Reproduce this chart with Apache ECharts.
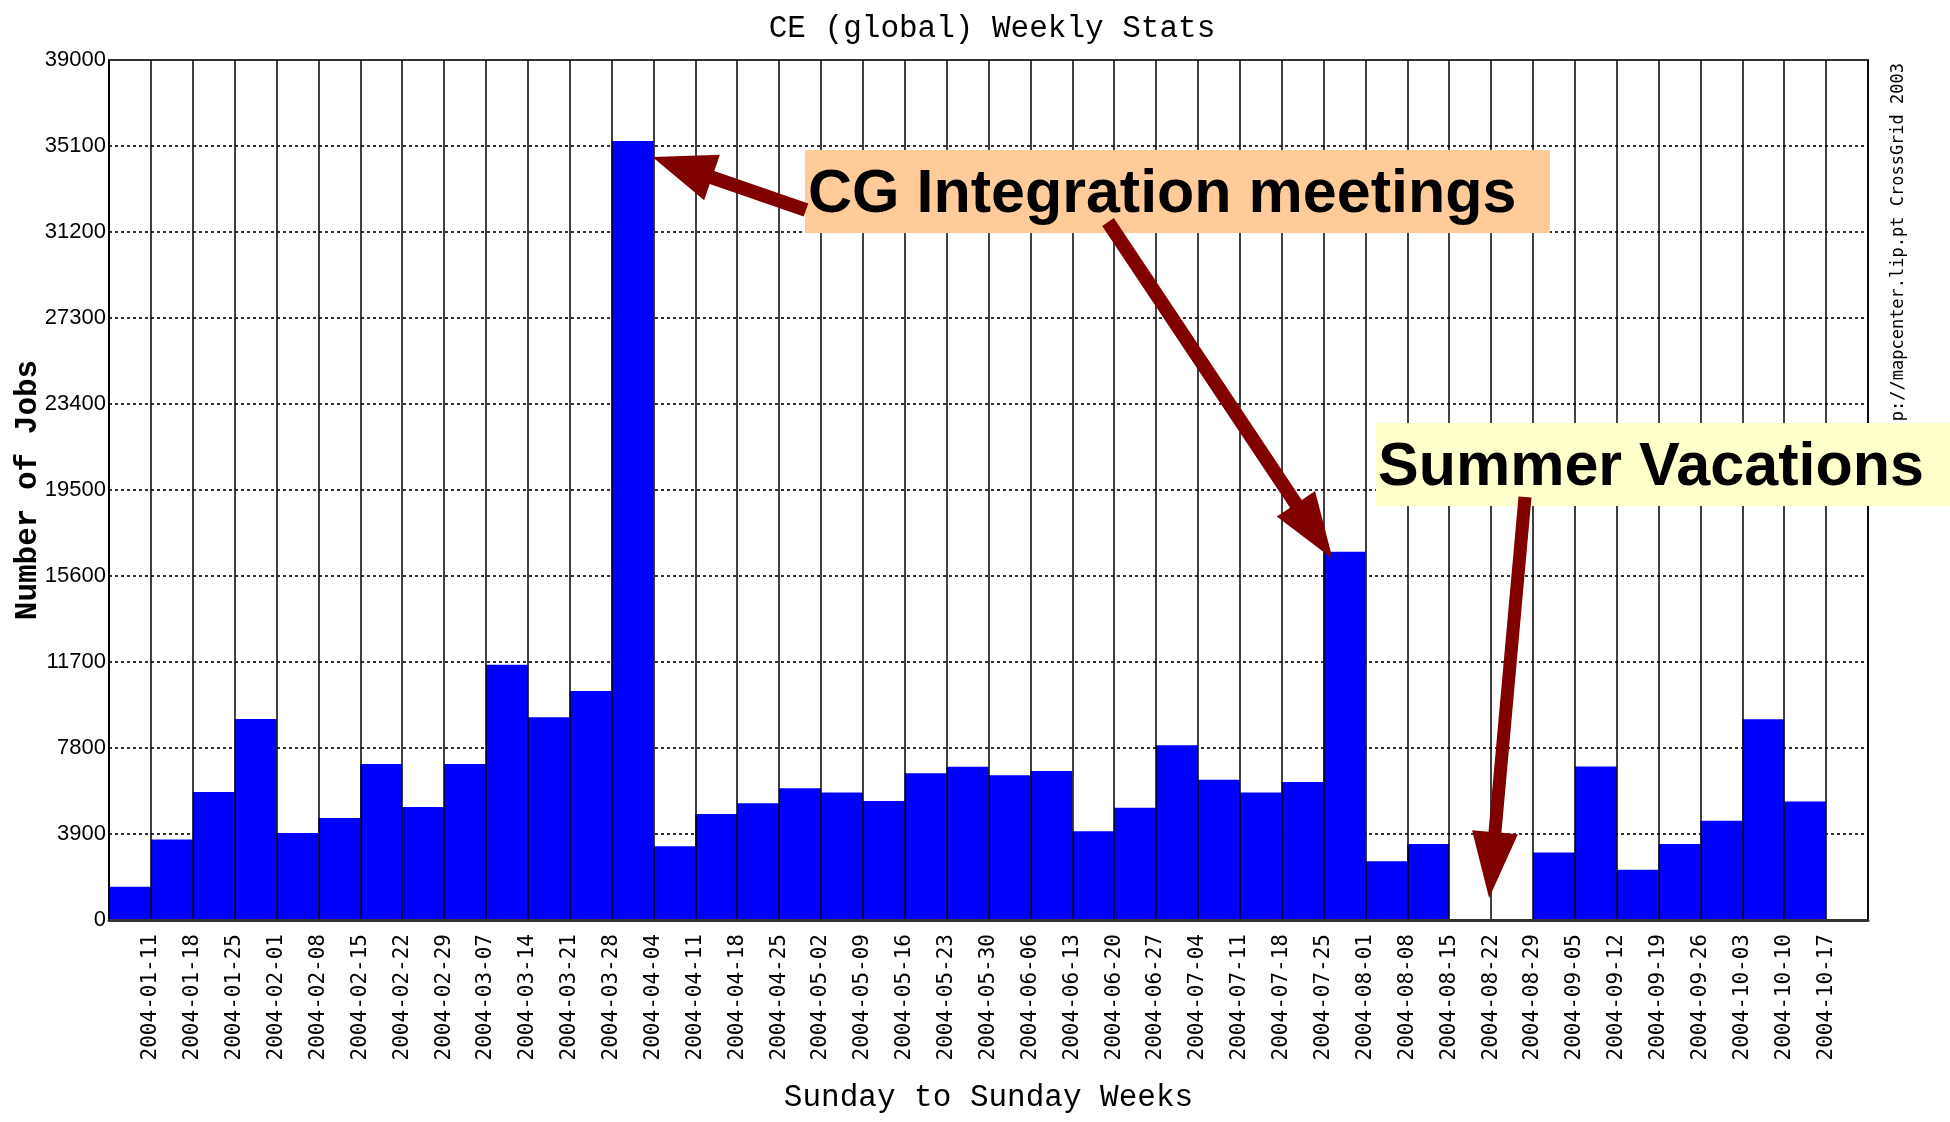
<!DOCTYPE html>
<html><head><meta charset="utf-8">
<script src="https://cdn.jsdelivr.net/npm/echarts@6/dist/echarts.min.js"></script>
<style>html,body{margin:0;padding:0;background:#fff}#c{width:1950px;height:1122px}</style>
</head><body><div id="c"></div>
<script>
// ---- data ----
const weeks = [
  '2004-01-11','2004-01-18','2004-01-25','2004-02-01','2004-02-08','2004-02-15','2004-02-22','2004-02-29',
  '2004-03-07','2004-03-14','2004-03-21','2004-03-28','2004-04-04','2004-04-11','2004-04-18','2004-04-25',
  '2004-05-02','2004-05-09','2004-05-16','2004-05-23','2004-05-30','2004-06-06','2004-06-13','2004-06-20',
  '2004-06-27','2004-07-04','2004-07-11','2004-07-18','2004-07-25','2004-08-01','2004-08-08','2004-08-15',
  '2004-08-22','2004-08-29','2004-09-05','2004-09-12','2004-09-19','2004-09-26','2004-10-03','2004-10-10',
  '2004-10-17'
];
const jobs = [
  1510, 3650, 5810, 9110, 3950, 4630, 7080, 5130,
  7080, 11570, 9200, 10380, 35330, 3340, 4810, 5290,
  5970, 5780, 5400, 6650, 6950, 6560, 6760, 4020,
  5090, 7920, 6360, 5780, 6260, 16700, 2660, 3450,
  0, 0, 3060, 6960, 2280, 3450, 4500, 9100,
  5370
];
const yMin = 0, yMax = 39000, yStep = 3900;
const titleText = 'CE (global) Weekly Stats';
const xName = 'Sunday to Sunday Weeks';
const yName = 'Number of Jobs';
const creditText = 'http://mapcenter.lip.pt CrossGrid 2003';
const note1 = 'CG Integration meetings';
const note2 = 'Summer Vacations';

// slots: one per week plus one trailing empty slot
const slots = weeks.concat(['']);
const slotValues = jobs.concat([null]);
// labels sit on slot boundaries (week ending date at the right edge of its bar)
const boundaryLabels = [''].concat(weeks, ['']);

const chart = echarts.init(document.getElementById('c'), null, {renderer: 'canvas'});
const option = {
  animation: false,
  backgroundColor: '#ffffff',
  title: {
    text: titleText, left: 987, top: 8, textAlign: 'center',
    textStyle: {fontFamily: 'Liberation Mono', fontSize: 31, fontWeight: 'normal', color: '#000'}
  },
  grid: {left: 109, right: 82, top: 60, bottom: 202, containLabel: false, outerBoundsMode: 'none',
         show: true, borderColor: '#333', borderWidth: 2},
  xAxis: [
    {
      type: 'category', data: slots, boundaryGap: true, z: 10,
      name: xName, nameLocation: 'middle', nameGap: 162, nameMoveOverlap: false,
      nameTextStyle: {fontFamily: 'Liberation Mono', fontSize: 31, color: '#000'},
      axisLine: {show: true, lineStyle: {color: '#333', width: 3}},
      axisTick: {show: false},
      axisLabel: {show: false, interval: 0},
      splitLine: {show: true, interval: 0, lineStyle: {color: '#000', width: 1.5}}
    },
    {
      type: 'category', data: boundaryLabels, boundaryGap: false, position: 'bottom',
      axisLine: {show: false}, axisTick: {show: false}, splitLine: {show: false},
      axisLabel: {interval: 0, rotate: 90, margin: 14, fontFamily: 'DejaVu Sans Mono', fontSize: 21, color: '#000'}
    }
  ],
  yAxis: {
    type: 'value', min: yMin, max: yMax, interval: yStep,
    name: yName, nameLocation: 'middle', nameGap: 65, nameRotate: 90, nameMoveOverlap: false,
    nameTextStyle: {fontFamily: 'Liberation Mono', fontWeight: 'bold', fontSize: 31, color: '#000'},
    axisLine: {show: true, lineStyle: {color: '#000', width: 1.5}},
    axisTick: {show: false},
    axisLabel: {margin: 3, fontFamily: 'Liberation Sans', fontSize: 22, color: '#000',
                formatter: function (v) { return String(v); }},
    splitLine: {show: true, showMinLine: false, showMaxLine: false, lineStyle: {color: '#000', type: [3, 3], width: 1.6}}
  },
  series: [{
    type: 'bar', data: slotValues, xAxisIndex: 0, yAxisIndex: 0,
    barCategoryGap: '0%', itemStyle: {color: '#0000ff'}
  }]
};
chart.setOption(option);

// ---- annotations ----
function px(i, v) { return chart.convertToPixel({xAxisIndex: 0, yAxisIndex: 0}, [i, v]); }
const slotW = px(1, 0)[0] - px(0, 0)[0];
function arrowPoints(T, P, w, L, H) {
  const dx = P[0] - T[0], dy = P[1] - T[1];
  const len = Math.sqrt(dx * dx + dy * dy);
  const ux = dx / len, uy = dy / len, nx = -uy, ny = ux;
  const B = [P[0] - ux * L, P[1] - uy * L];
  return [
    [T[0] + nx * w, T[1] + ny * w], [B[0] + nx * w, B[1] + ny * w], [B[0] + nx * H, B[1] + ny * H],
    P,
    [B[0] - nx * H, B[1] - ny * H], [B[0] - nx * w, B[1] - ny * w], [T[0] - nx * w, T[1] - ny * w]
  ];
}
const peak = px(12, jobs[12]);
const tip1 = [peak[0] + slotW / 2 - 1, peak[1] + 16];
const b30 = px(29, jobs[29]);
const tip2 = [b30[0] - slotW / 2 + 9, b30[1] + 7];
const gap = px(33, 1000);
const tip3 = [gap[0] - slotW / 2 - 2, gap[1]];
const arrowColor = '#800000';
const annFont = 'bold 61px "Liberation Sans"';

chart.setOption({
  graphic: [
    {type: 'text', z: 50, rotation: Math.PI / 2, x: 1899, y: 63,
     style: {text: creditText, font: '17px "DejaVu Sans Mono"', fill: '#000', textAlign: 'right', textVerticalAlign: 'middle'}},
    {type: 'rect', z: 100, shape: {x: 805, y: 150, width: 745, height: 83}, style: {fill: '#FFCC99'}},
    {type: 'text', z: 101, x: 808, y: 195, style: {text: note1, font: annFont, fill: '#000', textAlign: 'left', textVerticalAlign: 'middle'}},
    {type: 'rect', z: 100, shape: {x: 1376, y: 423, width: 574, height: 83}, style: {fill: '#FFFFCC'}},
    {type: 'text', z: 101, x: 1378, y: 468, style: {text: note2, font: annFont, fill: '#000', textAlign: 'left', textVerticalAlign: 'middle'}},
    {type: 'polygon', z: 102, shape: {points: arrowPoints([806, 210], tip1, 7, 63, 24)}, style: {fill: arrowColor}},
    {type: 'polygon', z: 102, shape: {points: arrowPoints([1108, 222], tip2, 7, 66, 23)}, style: {fill: arrowColor}},
    {type: 'polygon', z: 102, shape: {points: arrowPoints([1525, 497], tip3, 6.5, 66, 23)}, style: {fill: arrowColor}}
  ]
});
</script>
</body></html>
